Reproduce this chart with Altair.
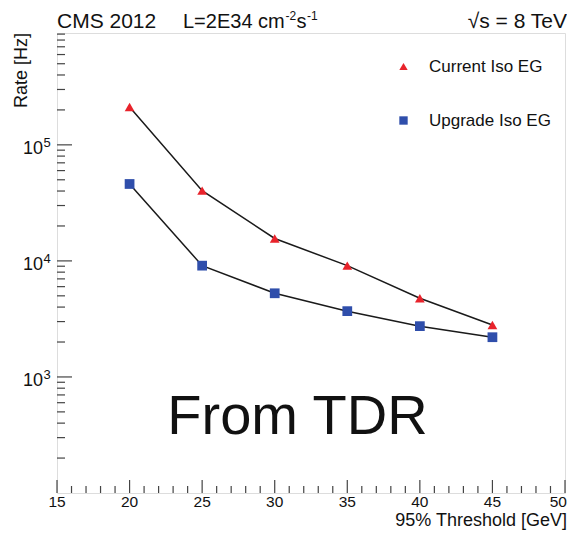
import altair as alt
import pandas as pd

# ---- data ----
thresholds = [20, 25, 30, 35, 40, 45]
current_iso_eg = [212000, 40300, 15600, 9100, 4770, 2800]
upgrade_iso_eg = [46000, 9100, 5260, 3690, 2740, 2200]
series_names = ["Current Iso EG", "Upgrade Iso EG"]

x_major = [15, 20, 25, 30, 35, 40, 45, 50]
x_labels = ["15", "20", "25", "30", "35", "40", "45", "50"]
x_minor = [v for v in range(15, 51) if v % 5 != 0]
y_major = [1e3, 1e4, 1e5]
y_exponents = ["3", "4", "5"]
y_minor = [m * d for d in [1e2, 1e3, 1e4, 1e5] for m in range(2, 10) if m * d <= 920000]

df = pd.DataFrame({
    "threshold": thresholds * 2,
    "rate": current_iso_eg + upgrade_iso_eg,
    "series": [series_names[0]] * len(thresholds) + [series_names[1]] * len(thresholds),
})

W, H = 508, 460
FONT = "Liberation Sans"
INK = "#111"
TICK = "#444"

xscale = alt.Scale(domain=[15, 50], nice=False, zero=False)
yscale = alt.Scale(type="log", domain=[100, 920000], nice=False)

lines = alt.Chart(df).mark_line(color="#1a1a1a", strokeWidth=1.5).encode(
    x=alt.X("threshold:Q", scale=xscale, axis=None),
    y=alt.Y("rate:Q", scale=yscale, axis=None),
    detail="series:N")

legend = alt.Legend(title=None, orient="none", legendX=338, legendY=25,
                    labelFontSize=17, labelFont=FONT, labelColor=INK,
                    rowPadding=36, symbolSize=70, labelOffset=17, padding=0)

points = alt.Chart(df).mark_point(filled=True, opacity=1).encode(
    x=alt.X("threshold:Q", scale=xscale, axis=None),
    y=alt.Y("rate:Q", scale=yscale, axis=None),
    shape=alt.Shape("series:N", scale=alt.Scale(domain=series_names, range=["triangle-up", "square"]),
                    legend=legend),
    color=alt.Color("series:N", scale=alt.Scale(domain=series_names, range=["#e8232b", "#2f4eab"]),
                    legend=legend),
    size=alt.value(95),
)

ymaj = alt.Chart(pd.DataFrame({"v": y_major})).mark_rule(color=TICK, strokeWidth=1.2).encode(
    y=alt.Y("v:Q", scale=yscale, axis=None), x=alt.value(0), x2=alt.value(15))
ymin = alt.Chart(pd.DataFrame({"v": y_minor})).mark_rule(color=TICK, strokeWidth=1.2).encode(
    y=alt.Y("v:Q", scale=yscale, axis=None), x=alt.value(0), x2=alt.value(8))
xmaj = alt.Chart(pd.DataFrame({"v": x_major})).mark_rule(color=TICK, strokeWidth=1.2).encode(
    x=alt.X("v:Q", scale=xscale, axis=None), y=alt.value(H), y2=alt.value(H - 13))
xmin = alt.Chart(pd.DataFrame({"v": x_minor})).mark_rule(color=TICK, strokeWidth=1.2).encode(
    x=alt.X("v:Q", scale=xscale, axis=None), y=alt.value(H), y2=alt.value(H - 7))

# tick labels (from the label lists, positioned through the scales)
xlab_df = pd.DataFrame({"v": x_major, "t": x_labels})
xlab_mid = alt.Chart(xlab_df.iloc[:-1]).mark_text(
    font=FONT, fontSize=15.5, align="center", baseline="alphabetic", color=INK).encode(
    x=alt.X("v:Q", scale=xscale, axis=None), y=alt.value(H + 14), text="t:N")
xlab_end = alt.Chart(xlab_df.iloc[-1:]).mark_text(
    font=FONT, fontSize=15.5, align="right", baseline="alphabetic", color=INK, dx=2).encode(
    x=alt.X("v:Q", scale=xscale, axis=None), y=alt.value(H + 14), text="t:N")

ylab_df = pd.DataFrame({"v": y_major, "b": ["10"] * len(y_major), "e": y_exponents})
ylab_base = alt.Chart(ylab_df).mark_text(
    font=FONT, fontSize=18, align="right", baseline="alphabetic", color=INK, dy=9).encode(
    y=alt.Y("v:Q", scale=yscale, axis=None), x=alt.value(-14), text="b:N")
ylab_exp = alt.Chart(ylab_df).mark_text(
    font=FONT, fontSize=13, align="left", baseline="alphabetic", color=INK, dy=2).encode(
    y=alt.Y("v:Q", scale=yscale, axis=None), x=alt.value(-13.5), text="e:N")


def label(txt, x, y, size, align="left", baseline="alphabetic", angle=0):
    return alt.Chart(pd.DataFrame({"t": [txt]})).mark_text(
        font=FONT, fontSize=size, align=align, baseline=baseline, color=INK, angle=angle).encode(
        text="t:N", x=alt.value(x), y=alt.value(y))


x_title = label("95% Threshold [GeV]", W + 2, H + 33, 18, align="right")
y_title = label("Rate [Hz]", -35, 0, 18, align="right", baseline="middle", angle=270)

header_cms = label("CMS 2012", 0, -5, 21)
header_lumi = label("L=2E34 cm", 126, -5, 20)
header_e1 = label("-2", 228.5, -13, 12)
header_s = label("s", 239.5, -5, 20)
header_e2 = label("-1", 250, -13, 12)
header_rts = label("√s = 8 TeV", W + 2, -5, 21, align="right")
note = label("From TDR", 240.5, 384, 56, align="center", baseline="middle")

chart = alt.layer(lines, points, ymaj, ymin, xmaj, xmin,
                  xlab_mid, xlab_end, ylab_base, ylab_exp, x_title, y_title,
                  header_cms, header_lumi, header_e1, header_s, header_e2, header_rts,
                  note).properties(
    width=W, height=H,
    autosize=alt.AutoSizeParams(type="none"),
    padding={"left": 49, "top": 25, "right": 2, "bottom": 38},
).configure_view(stroke="#333", strokeWidth=1.5).configure(font=FONT)

chart.save("out.html", embed_options={"renderer": "svg", "actions": False})
